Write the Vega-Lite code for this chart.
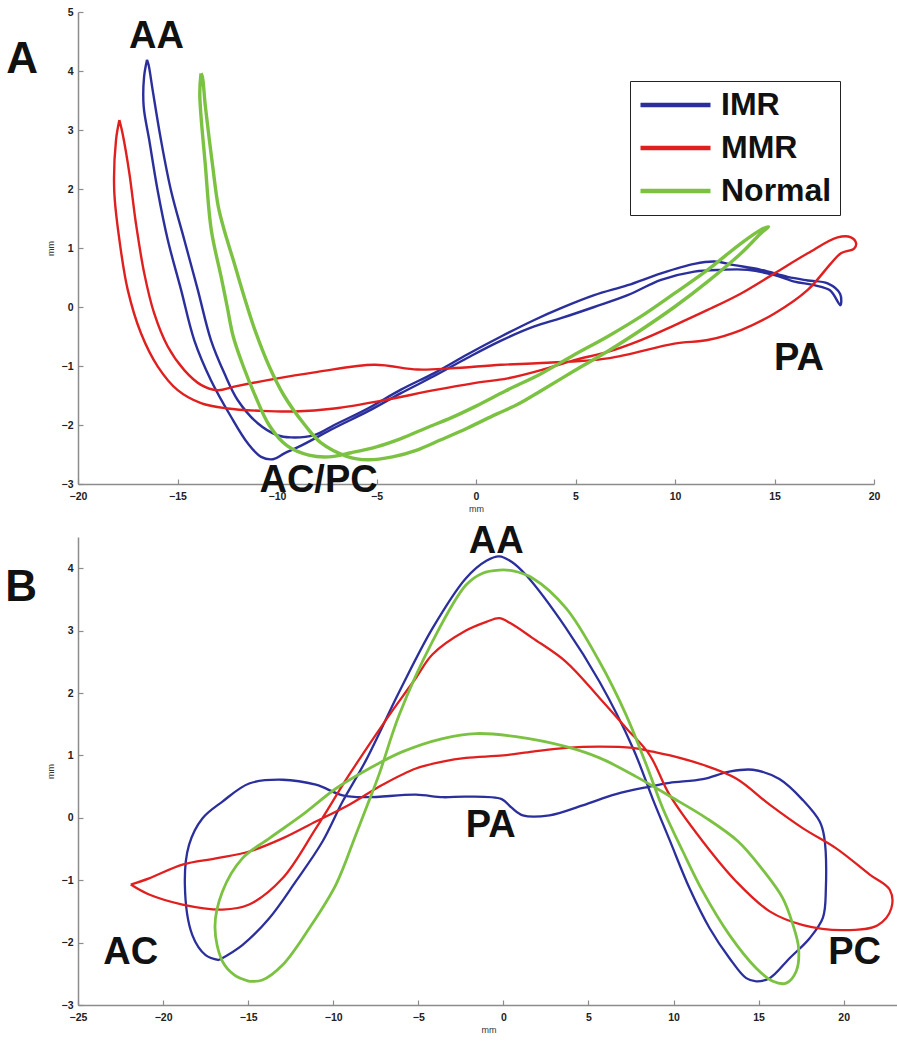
{
  "$schema": "https://vega.github.io/schema/vega-lite/v6.json",
  "background": "white",
  "padding": {"left": 5, "top": 7, "right": 0, "bottom": 5},
  "spacing": 9,
  "config": {
    "view": {"stroke": null},
    "axis": {"grid": false, "domainColor": "#8c8c8c", "domainWidth": 1.5, "tickColor": "#8c8c8c", "tickWidth": 1.2, "tickSize": -5, "labelFont": "Liberation Sans", "labelFontWeight": "bold", "labelFontSize": 10.5, "labelColor": "#222", "labelFlush": false, "format": "d", "titleFont": "Liberation Sans", "titleFontSize": 9, "titleFontWeight": "normal", "titleColor": "#333"},
    "axisX": {"labelPadding": 12, "titlePadding": 3},
    "axisY": {"labelPadding": 10, "titlePadding": 6}
  },
  "resolve": {"scale": {"color": "independent"}, "legend": {"color": "independent"}},
  "datasets": {
    "A_lines": [
      {"g":"IMR","i":0,"x":-16.53,"y":4.19},{"g":"IMR","i":1,"x":-16.68,"y":3.9},{"g":"IMR","i":2,"x":-16.7,"y":3.4},{"g":"IMR","i":3,"x":-16.42,"y":2.83},{"g":"IMR","i":4,"x":-16.0,"y":1.98},{"g":"IMR","i":5,"x":-15.49,"y":1.14},{"g":"IMR","i":6,"x":-14.82,"y":0.29},{"g":"IMR","i":7,"x":-14.16,"y":-0.56},{"g":"IMR","i":8,"x":-13.32,"y":-1.24},{"g":"IMR","i":9,"x":-12.31,"y":-1.86},{"g":"IMR","i":10,"x":-11.47,"y":-2.31},{"g":"IMR","i":11,"x":-10.8,"y":-2.54},{"g":"IMR","i":12,"x":-10.2,"y":-2.58},{"g":"IMR","i":13,"x":-9.63,"y":-2.48},{"g":"IMR","i":14,"x":-8.79,"y":-2.35},{"g":"IMR","i":15,"x":-7.12,"y":-2.05},{"g":"IMR","i":16,"x":-5.44,"y":-1.77},{"g":"IMR","i":17,"x":-3.77,"y":-1.46},{"g":"IMR","i":18,"x":-2.1,"y":-1.17},{"g":"IMR","i":19,"x":-0.42,"y":-0.86},{"g":"IMR","i":20,"x":1.26,"y":-0.57},{"g":"IMR","i":21,"x":2.93,"y":-0.33},{"g":"IMR","i":22,"x":4.27,"y":-0.19},{"g":"IMR","i":23,"x":5.94,"y":0.0},{"g":"IMR","i":24,"x":7.62,"y":0.2},{"g":"IMR","i":25,"x":9.3,"y":0.46},{"g":"IMR","i":26,"x":10.97,"y":0.6},{"g":"IMR","i":27,"x":12.31,"y":0.63},{"g":"IMR","i":28,"x":13.65,"y":0.63},{"g":"IMR","i":29,"x":15.0,"y":0.54},{"g":"IMR","i":30,"x":16.0,"y":0.43},{"g":"IMR","i":31,"x":17.0,"y":0.37},{"g":"IMR","i":32,"x":17.8,"y":0.28},{"g":"IMR","i":33,"x":18.31,"y":0.03},{"g":"IMR","i":34,"x":18.3,"y":0.22},{"g":"IMR","i":35,"x":17.67,"y":0.4},{"g":"IMR","i":36,"x":16.67,"y":0.45},{"g":"IMR","i":37,"x":15.66,"y":0.51},{"g":"IMR","i":38,"x":14.32,"y":0.63},{"g":"IMR","i":39,"x":12.98,"y":0.71},{"g":"IMR","i":40,"x":11.98,"y":0.77},{"g":"IMR","i":41,"x":10.97,"y":0.73},{"g":"IMR","i":42,"x":9.3,"y":0.57},{"g":"IMR","i":43,"x":7.62,"y":0.37},{"g":"IMR","i":44,"x":5.94,"y":0.2},{"g":"IMR","i":45,"x":4.27,"y":-0.02},{"g":"IMR","i":46,"x":2.93,"y":-0.22},{"g":"IMR","i":47,"x":1.26,"y":-0.5},{"g":"IMR","i":48,"x":-0.42,"y":-0.8},{"g":"IMR","i":49,"x":-2.1,"y":-1.12},{"g":"IMR","i":50,"x":-3.77,"y":-1.4},{"g":"IMR","i":51,"x":-5.44,"y":-1.72},{"g":"IMR","i":52,"x":-7.12,"y":-2.0},{"g":"IMR","i":53,"x":-8.12,"y":-2.17},{"g":"IMR","i":54,"x":-9.3,"y":-2.21},{"g":"IMR","i":55,"x":-10.0,"y":-2.17},{"g":"IMR","i":56,"x":-10.97,"y":-1.97},{"g":"IMR","i":57,"x":-11.97,"y":-1.58},{"g":"IMR","i":58,"x":-12.65,"y":-1.12},{"g":"IMR","i":59,"x":-13.32,"y":-0.56},{"g":"IMR","i":60,"x":-13.98,"y":0.29},{"g":"IMR","i":61,"x":-14.66,"y":1.14},{"g":"IMR","i":62,"x":-15.33,"y":1.98},{"g":"IMR","i":63,"x":-15.83,"y":2.83},{"g":"IMR","i":64,"x":-16.25,"y":3.68},{"g":"IMR","i":65,"x":-16.45,"y":4.1},{"g":"IMR","i":66,"x":-16.53,"y":4.19},
      {"g":"MMR","i":0,"x":-17.92,"y":3.17},{"g":"MMR","i":1,"x":-18.09,"y":2.83},{"g":"MMR","i":2,"x":-18.18,"y":1.98},{"g":"MMR","i":3,"x":-17.92,"y":1.14},{"g":"MMR","i":4,"x":-17.5,"y":0.29},{"g":"MMR","i":5,"x":-16.83,"y":-0.45},{"g":"MMR","i":6,"x":-15.99,"y":-1.01},{"g":"MMR","i":7,"x":-14.99,"y":-1.41},{"g":"MMR","i":8,"x":-13.82,"y":-1.63},{"g":"MMR","i":9,"x":-12.48,"y":-1.72},{"g":"MMR","i":10,"x":-10.8,"y":-1.76},{"g":"MMR","i":11,"x":-9.13,"y":-1.77},{"g":"MMR","i":12,"x":-7.12,"y":-1.72},{"g":"MMR","i":13,"x":-4.61,"y":-1.58},{"g":"MMR","i":14,"x":-2.1,"y":-1.41},{"g":"MMR","i":15,"x":-0.09,"y":-1.29},{"g":"MMR","i":16,"x":1.59,"y":-1.21},{"g":"MMR","i":17,"x":3.27,"y":-1.07},{"g":"MMR","i":18,"x":4.94,"y":-0.9},{"g":"MMR","i":19,"x":6.62,"y":-0.76},{"g":"MMR","i":20,"x":8.29,"y":-0.56},{"g":"MMR","i":21,"x":9.97,"y":-0.31},{"g":"MMR","i":22,"x":11.64,"y":-0.05},{"g":"MMR","i":23,"x":13.32,"y":0.23},{"g":"MMR","i":24,"x":15.0,"y":0.57},{"g":"MMR","i":25,"x":16.67,"y":0.91},{"g":"MMR","i":26,"x":18.17,"y":1.18},{"g":"MMR","i":27,"x":18.84,"y":1.18},{"g":"MMR","i":28,"x":19.1,"y":1.08},{"g":"MMR","i":29,"x":19.0,"y":0.99},{"g":"MMR","i":30,"x":18.34,"y":0.91},{"g":"MMR","i":31,"x":17.84,"y":0.74},{"g":"MMR","i":32,"x":16.67,"y":0.29},{"g":"MMR","i":33,"x":15.0,"y":-0.11},{"g":"MMR","i":34,"x":13.32,"y":-0.39},{"g":"MMR","i":35,"x":11.64,"y":-0.56},{"g":"MMR","i":36,"x":9.97,"y":-0.62},{"g":"MMR","i":37,"x":6.62,"y":-0.87},{"g":"MMR","i":38,"x":3.27,"y":-0.95},{"g":"MMR","i":39,"x":1.26,"y":-0.98},{"g":"MMR","i":40,"x":-1.26,"y":-1.04},{"g":"MMR","i":41,"x":-2.93,"y":-1.06},{"g":"MMR","i":42,"x":-5.11,"y":-0.98},{"g":"MMR","i":43,"x":-7.96,"y":-1.1},{"g":"MMR","i":44,"x":-10.47,"y":-1.24},{"g":"MMR","i":45,"x":-12.15,"y":-1.35},{"g":"MMR","i":46,"x":-12.98,"y":-1.41},{"g":"MMR","i":47,"x":-13.82,"y":-1.32},{"g":"MMR","i":48,"x":-14.66,"y":-1.07},{"g":"MMR","i":49,"x":-15.49,"y":-0.67},{"g":"MMR","i":50,"x":-16.17,"y":-0.11},{"g":"MMR","i":51,"x":-16.67,"y":0.57},{"g":"MMR","i":52,"x":-17.09,"y":1.42},{"g":"MMR","i":53,"x":-17.42,"y":2.27},{"g":"MMR","i":54,"x":-17.76,"y":2.94},{"g":"MMR","i":55,"x":-17.92,"y":3.17},
      {"g":"Normal","i":0,"x":-13.82,"y":3.96},{"g":"Normal","i":1,"x":-13.88,"y":3.6},{"g":"Normal","i":2,"x":-13.6,"y":2.4},{"g":"Normal","i":3,"x":-13.3,"y":1.3},{"g":"Normal","i":4,"x":-12.8,"y":0.5},{"g":"Normal","i":5,"x":-12.5,"y":0.0},{"g":"Normal","i":6,"x":-12.2,"y":-0.5},{"g":"Normal","i":7,"x":-11.7,"y":-1.0},{"g":"Normal","i":8,"x":-11.1,"y":-1.5},{"g":"Normal","i":9,"x":-10.4,"y":-2.0},{"g":"Normal","i":10,"x":-9.5,"y":-2.35},{"g":"Normal","i":11,"x":-8.4,"y":-2.51},{"g":"Normal","i":12,"x":-7.4,"y":-2.54},{"g":"Normal","i":13,"x":-6.28,"y":-2.47},{"g":"Normal","i":14,"x":-5.0,"y":-2.37},{"g":"Normal","i":15,"x":-3.77,"y":-2.23},{"g":"Normal","i":16,"x":-2.5,"y":-2.05},{"g":"Normal","i":17,"x":-1.26,"y":-1.88},{"g":"Normal","i":18,"x":0.0,"y":-1.68},{"g":"Normal","i":19,"x":1.5,"y":-1.42},{"g":"Normal","i":20,"x":3.27,"y":-1.13},{"g":"Normal","i":21,"x":4.94,"y":-0.81},{"g":"Normal","i":22,"x":6.62,"y":-0.5},{"g":"Normal","i":23,"x":8.29,"y":-0.16},{"g":"Normal","i":24,"x":9.97,"y":0.23},{"g":"Normal","i":25,"x":11.64,"y":0.63},{"g":"Normal","i":26,"x":13.32,"y":1.08},{"g":"Normal","i":27,"x":14.32,"y":1.31},{"g":"Normal","i":28,"x":14.7,"y":1.36},{"g":"Normal","i":29,"x":14.32,"y":1.25},{"g":"Normal","i":30,"x":13.32,"y":0.91},{"g":"Normal","i":31,"x":11.64,"y":0.43},{"g":"Normal","i":32,"x":9.97,"y":0.0},{"g":"Normal","i":33,"x":8.29,"y":-0.39},{"g":"Normal","i":34,"x":6.62,"y":-0.75},{"g":"Normal","i":35,"x":4.94,"y":-1.08},{"g":"Normal","i":36,"x":3.27,"y":-1.42},{"g":"Normal","i":37,"x":2.1,"y":-1.65},{"g":"Normal","i":38,"x":1.0,"y":-1.82},{"g":"Normal","i":39,"x":-0.42,"y":-2.05},{"g":"Normal","i":40,"x":-1.76,"y":-2.25},{"g":"Normal","i":41,"x":-2.93,"y":-2.42},{"g":"Normal","i":42,"x":-4.2,"y":-2.54},{"g":"Normal","i":43,"x":-5.44,"y":-2.59},{"g":"Normal","i":44,"x":-6.5,"y":-2.53},{"g":"Normal","i":45,"x":-7.8,"y":-2.3},{"g":"Normal","i":46,"x":-8.6,"y":-2.0},{"g":"Normal","i":47,"x":-9.65,"y":-1.5},{"g":"Normal","i":48,"x":-10.4,"y":-1.0},{"g":"Normal","i":49,"x":-11.1,"y":-0.4},{"g":"Normal","i":50,"x":-11.6,"y":0.12},{"g":"Normal","i":51,"x":-12.2,"y":0.8},{"g":"Normal","i":52,"x":-12.65,"y":1.3},{"g":"Normal","i":53,"x":-12.95,"y":1.7},{"g":"Normal","i":54,"x":-13.23,"y":2.38},{"g":"Normal","i":55,"x":-13.6,"y":3.4},{"g":"Normal","i":56,"x":-13.75,"y":3.9},{"g":"Normal","i":57,"x":-13.82,"y":3.96}
    ],
    "B_lines": [
      {"g":"IMR","i":0,"x":-16.71,"y":-2.28},{"g":"IMR","i":1,"x":-15.34,"y":-2.04},{"g":"IMR","i":2,"x":-13.76,"y":-1.61},{"g":"IMR","i":3,"x":-12.2,"y":-1.02},{"g":"IMR","i":4,"x":-10.63,"y":-0.38},{"g":"IMR","i":5,"x":-9.45,"y":0.26},{"g":"IMR","i":6,"x":-8.08,"y":0.92},{"g":"IMR","i":7,"x":-6.12,"y":2.02},{"g":"IMR","i":8,"x":-4.16,"y":3.04},{"g":"IMR","i":9,"x":-2.2,"y":3.84},{"g":"IMR","i":10,"x":-1.0,"y":4.12},{"g":"IMR","i":11,"x":-0.24,"y":4.19},{"g":"IMR","i":12,"x":0.5,"y":4.1},{"g":"IMR","i":13,"x":1.33,"y":3.89},{"g":"IMR","i":14,"x":3.68,"y":3.04},{"g":"IMR","i":15,"x":5.65,"y":2.18},{"g":"IMR","i":16,"x":7.61,"y":1.12},{"g":"IMR","i":17,"x":8.78,"y":0.3},{"g":"IMR","i":18,"x":9.76,"y":-0.35},{"g":"IMR","i":19,"x":10.94,"y":-1.13},{"g":"IMR","i":20,"x":12.12,"y":-1.77},{"g":"IMR","i":21,"x":13.29,"y":-2.25},{"g":"IMR","i":22,"x":14.27,"y":-2.57},{"g":"IMR","i":23,"x":14.86,"y":-2.62},{"g":"IMR","i":24,"x":15.65,"y":-2.57},{"g":"IMR","i":25,"x":16.82,"y":-2.25},{"g":"IMR","i":26,"x":18.0,"y":-1.93},{"g":"IMR","i":27,"x":18.78,"y":-1.6},{"g":"IMR","i":28,"x":18.95,"y":-1.15},{"g":"IMR","i":29,"x":18.85,"y":-0.3},{"g":"IMR","i":30,"x":18.59,"y":-0.06},{"g":"IMR","i":31,"x":17.61,"y":0.28},{"g":"IMR","i":32,"x":16.22,"y":0.62},{"g":"IMR","i":33,"x":14.66,"y":0.77},{"g":"IMR","i":34,"x":13.28,"y":0.74},{"g":"IMR","i":35,"x":11.72,"y":0.62},{"g":"IMR","i":36,"x":9.76,"y":0.56},{"g":"IMR","i":37,"x":8.59,"y":0.5},{"g":"IMR","i":38,"x":6.62,"y":0.38},{"g":"IMR","i":39,"x":4.66,"y":0.2},{"g":"IMR","i":40,"x":2.71,"y":0.04},{"g":"IMR","i":41,"x":1.14,"y":0.04},{"g":"IMR","i":42,"x":0.45,"y":0.17},{"g":"IMR","i":43,"x":-0.1,"y":0.3},{"g":"IMR","i":44,"x":-2.2,"y":0.34},{"g":"IMR","i":45,"x":-3.57,"y":0.33},{"g":"IMR","i":46,"x":-5.14,"y":0.37},{"g":"IMR","i":47,"x":-8.08,"y":0.33},{"g":"IMR","i":48,"x":-9.45,"y":0.36},{"g":"IMR","i":49,"x":-11.02,"y":0.53},{"g":"IMR","i":50,"x":-12.98,"y":0.61},{"g":"IMR","i":51,"x":-14.94,"y":0.55},{"g":"IMR","i":52,"x":-16.51,"y":0.26},{"g":"IMR","i":53,"x":-17.69,"y":-0.01},{"g":"IMR","i":54,"x":-18.47,"y":-0.43},{"g":"IMR","i":55,"x":-18.72,"y":-1.07},{"g":"IMR","i":56,"x":-18.28,"y":-1.88},{"g":"IMR","i":57,"x":-17.5,"y":-2.2},{"g":"IMR","i":58,"x":-16.71,"y":-2.28},
      {"g":"MMR","i":0,"x":-21.9,"y":-1.07},{"g":"MMR","i":1,"x":-20.82,"y":-0.97},{"g":"MMR","i":2,"x":-18.86,"y":-0.75},{"g":"MMR","i":3,"x":-16.9,"y":-0.65},{"g":"MMR","i":4,"x":-14.94,"y":-0.54},{"g":"MMR","i":5,"x":-12.98,"y":-0.33},{"g":"MMR","i":6,"x":-11.02,"y":-0.06},{"g":"MMR","i":7,"x":-9.06,"y":0.21},{"g":"MMR","i":8,"x":-7.1,"y":0.53},{"g":"MMR","i":9,"x":-5.14,"y":0.79},{"g":"MMR","i":10,"x":-3.57,"y":0.9},{"g":"MMR","i":11,"x":-2.2,"y":0.96},{"g":"MMR","i":12,"x":0.0,"y":1.0},{"g":"MMR","i":13,"x":1.72,"y":1.06},{"g":"MMR","i":14,"x":3.68,"y":1.12},{"g":"MMR","i":15,"x":5.65,"y":1.14},{"g":"MMR","i":16,"x":7.61,"y":1.12},{"g":"MMR","i":17,"x":8.78,"y":1.06},{"g":"MMR","i":18,"x":9.8,"y":1.0},{"g":"MMR","i":19,"x":11.72,"y":0.85},{"g":"MMR","i":20,"x":13.68,"y":0.63},{"g":"MMR","i":21,"x":15.65,"y":0.21},{"g":"MMR","i":22,"x":17.61,"y":-0.17},{"g":"MMR","i":23,"x":19.56,"y":-0.49},{"g":"MMR","i":24,"x":21.53,"y":-0.91},{"g":"MMR","i":25,"x":22.7,"y":-1.15},{"g":"MMR","i":26,"x":22.8,"y":-1.45},{"g":"MMR","i":27,"x":22.0,"y":-1.72},{"g":"MMR","i":28,"x":20.0,"y":-1.8},{"g":"MMR","i":29,"x":17.61,"y":-1.72},{"g":"MMR","i":30,"x":15.65,"y":-1.5},{"g":"MMR","i":31,"x":13.68,"y":-1.02},{"g":"MMR","i":32,"x":11.72,"y":-0.38},{"g":"MMR","i":33,"x":9.76,"y":0.37},{"g":"MMR","i":34,"x":8.59,"y":1.01},{"g":"MMR","i":35,"x":7.21,"y":1.44},{"g":"MMR","i":36,"x":5.65,"y":1.92},{"g":"MMR","i":37,"x":3.68,"y":2.5},{"g":"MMR","i":38,"x":1.72,"y":2.88},{"g":"MMR","i":39,"x":0.4,"y":3.12},{"g":"MMR","i":40,"x":-0.24,"y":3.2},{"g":"MMR","i":41,"x":-1.0,"y":3.14},{"g":"MMR","i":42,"x":-2.2,"y":3.0},{"g":"MMR","i":43,"x":-4.16,"y":2.62},{"g":"MMR","i":44,"x":-5.14,"y":2.24},{"g":"MMR","i":45,"x":-6.12,"y":1.87},{"g":"MMR","i":46,"x":-7.1,"y":1.49},{"g":"MMR","i":47,"x":-9.06,"y":0.69},{"g":"MMR","i":48,"x":-11.02,"y":-0.17},{"g":"MMR","i":49,"x":-12.98,"y":-0.97},{"g":"MMR","i":50,"x":-14.94,"y":-1.39},{"g":"MMR","i":51,"x":-16.51,"y":-1.47},{"g":"MMR","i":52,"x":-18.86,"y":-1.39},{"g":"MMR","i":53,"x":-20.82,"y":-1.23},{"g":"MMR","i":54,"x":-21.9,"y":-1.07},
      {"g":"Normal","i":0,"x":-14.94,"y":-2.62},{"g":"Normal","i":1,"x":-15.8,"y":-2.52},{"g":"Normal","i":2,"x":-16.51,"y":-2.3},{"g":"Normal","i":3,"x":-16.95,"y":-1.75},{"g":"Normal","i":4,"x":-16.51,"y":-1.18},{"g":"Normal","i":5,"x":-15.34,"y":-0.65},{"g":"Normal","i":6,"x":-13.76,"y":-0.33},{"g":"Normal","i":7,"x":-11.8,"y":0.05},{"g":"Normal","i":8,"x":-9.84,"y":0.47},{"g":"Normal","i":9,"x":-7.88,"y":0.79},{"g":"Normal","i":10,"x":-5.92,"y":1.06},{"g":"Normal","i":11,"x":-3.57,"y":1.27},{"g":"Normal","i":12,"x":-1.61,"y":1.35},{"g":"Normal","i":13,"x":0.74,"y":1.3},{"g":"Normal","i":14,"x":3.68,"y":1.14},{"g":"Normal","i":15,"x":5.65,"y":0.96},{"g":"Normal","i":16,"x":7.8,"y":0.66},{"g":"Normal","i":17,"x":9.76,"y":0.35},{"g":"Normal","i":18,"x":11.9,"y":0.0},{"g":"Normal","i":19,"x":13.8,"y":-0.38},{"g":"Normal","i":20,"x":15.2,"y":-0.82},{"g":"Normal","i":21,"x":16.4,"y":-1.28},{"g":"Normal","i":22,"x":17.0,"y":-1.7},{"g":"Normal","i":23,"x":17.35,"y":-2.09},{"g":"Normal","i":24,"x":17.21,"y":-2.46},{"g":"Normal","i":25,"x":16.62,"y":-2.65},{"g":"Normal","i":26,"x":15.84,"y":-2.62},{"g":"Normal","i":27,"x":14.86,"y":-2.41},{"g":"Normal","i":28,"x":13.29,"y":-1.88},{"g":"Normal","i":29,"x":11.72,"y":-1.18},{"g":"Normal","i":30,"x":10.55,"y":-0.54},{"g":"Normal","i":31,"x":9.37,"y":0.15},{"g":"Normal","i":32,"x":8.4,"y":0.85},{"g":"Normal","i":33,"x":7.21,"y":1.65},{"g":"Normal","i":34,"x":5.65,"y":2.5},{"g":"Normal","i":35,"x":3.68,"y":3.36},{"g":"Normal","i":36,"x":1.72,"y":3.84},{"g":"Normal","i":37,"x":0.5,"y":3.96},{"g":"Normal","i":38,"x":-0.24,"y":3.97},{"g":"Normal","i":39,"x":-1.22,"y":3.92},{"g":"Normal","i":40,"x":-2.2,"y":3.73},{"g":"Normal","i":41,"x":-4.16,"y":2.83},{"g":"Normal","i":42,"x":-6.12,"y":1.65},{"g":"Normal","i":43,"x":-7.3,"y":0.7},{"g":"Normal","i":44,"x":-8.0,"y":0.2},{"g":"Normal","i":45,"x":-8.67,"y":-0.27},{"g":"Normal","i":46,"x":-9.84,"y":-1.07},{"g":"Normal","i":47,"x":-11.41,"y":-1.77},{"g":"Normal","i":48,"x":-12.98,"y":-2.36},{"g":"Normal","i":49,"x":-14.16,"y":-2.6},{"g":"Normal","i":50,"x":-14.94,"y":-2.62}
    ],
    "A_text": [
      {"kind":"panel","label":"A","x":-22.81,"y":3.97},
      {"kind":"note","label":"AA","x":-16.06,"y":4.39},
      {"kind":"note","label":"AC/PC","x":-7.91,"y":-3.14},
      {"kind":"note","label":"PA","x":16.23,"y":-1.07}
    ],
    "B_text": [
      {"kind":"panel","label":"B","x":-28.34,"y":3.47},
      {"kind":"note","label":"AA","x":-0.42,"y":4.24},
      {"kind":"note","label":"PA","x":-0.75,"y":-0.3},
      {"kind":"note","label":"AC","x":-21.9,"y":-2.34},
      {"kind":"note","label":"PC","x":20.64,"y":-2.34}
    ]
  },
  "vconcat": [
    {
      "width": 796,
      "height": 472,
      "layer": [
        {
          "data": {"name": "A_lines"},
          "transform": [{"filter": "datum.g != 'Normal'"}],
          "mark": {"type": "line", "strokeWidth": 2.4, "interpolate": "catmull-rom"},
          "encoding": {
            "x": {"field": "x", "type": "quantitative", "scale": {"domain": [-20, 20], "nice": false, "zero": false}, "axis": {"values": [-20, -15, -10, -5, 0, 5, 10, 15, 20], "title": "mm"}},
            "y": {"field": "y", "type": "quantitative", "scale": {"domain": [-3, 5], "nice": false, "zero": false}, "axis": {"values": [-3, -2, -1, 0, 1, 2, 3, 4, 5], "title": "mm"}},
            "order": {"field": "i", "type": "quantitative"},
            "detail": {"field": "g", "type": "nominal"},
            "color": {"field": "g", "type": "nominal", "scale": {"domain": ["IMR", "MMR", "Normal"], "range": ["#2b2f9b", "#e01f1f", "#7cc242"]},
              "legend": {"orient": "none", "legendX": 552, "legendY": 69, "title": null, "symbolType": "stroke", "symbolSize": 4900, "symbolStrokeWidth": 4.5, "labelFont": "Liberation Sans", "labelFontSize": 32, "labelFontWeight": "bold", "labelColor": "#111", "labelOffset": 8, "strokeColor": "#222", "padding": 8, "rowPadding": 11, "clipHeight": 32, "fillColor": "white"}}
          }
        },
        {
          "data": {"name": "A_lines"},
          "transform": [{"filter": "datum.g == 'Normal'"}],
          "mark": {"type": "line", "strokeWidth": 3.4, "interpolate": "catmull-rom"},
          "encoding": {
            "x": {"field": "x", "type": "quantitative"},
            "y": {"field": "y", "type": "quantitative"},
            "order": {"field": "i", "type": "quantitative"},
            "color": {"field": "g", "type": "nominal"}
          }
        },
        {
          "data": {"name": "A_text"},
          "transform": [{"filter": "datum.kind == 'note'"}],
          "mark": {"type": "text", "font": "Liberation Sans", "fontWeight": "bold", "fontSize": 38, "align": "center", "baseline": "alphabetic", "color": "#111"},
          "encoding": {
            "x": {"field": "x", "type": "quantitative"},
            "y": {"field": "y", "type": "quantitative"},
            "text": {"field": "label", "type": "nominal"}
          }
        },
        {
          "data": {"name": "A_text"},
          "transform": [{"filter": "datum.kind == 'panel'"}],
          "mark": {"type": "text", "font": "Liberation Sans", "fontWeight": "bold", "fontSize": 44, "align": "center", "baseline": "alphabetic", "color": "#111"},
          "encoding": {
            "x": {"field": "x", "type": "quantitative"},
            "y": {"field": "y", "type": "quantitative"},
            "text": {"field": "label", "type": "nominal"}
          }
        }
      ]
    },
    {
      "width": 821,
      "height": 468,
      "layer": [
        {
          "data": {"name": "B_lines"},
          "transform": [{"filter": "datum.g != 'Normal'"}],
          "mark": {"type": "line", "strokeWidth": 2.3, "interpolate": "catmull-rom"},
          "encoding": {
            "x": {"field": "x", "type": "quantitative", "scale": {"domain": [-25, 23.25], "nice": false, "zero": false}, "axis": {"values": [-25, -20, -15, -10, -5, 0, 5, 10, 15, 20], "title": "mm"}},
            "y": {"field": "y", "type": "quantitative", "scale": {"domain": [-3, 4.5], "nice": false, "zero": false}, "axis": {"values": [-3, -2, -1, 0, 1, 2, 3, 4], "title": "mm"}},
            "order": {"field": "i", "type": "quantitative"},
            "detail": {"field": "g", "type": "nominal"},
            "color": {"field": "g", "type": "nominal", "scale": {"domain": ["IMR", "MMR", "Normal"], "range": ["#2b2f9b", "#e01f1f", "#7cc242"]}, "legend": null}
          }
        },
        {
          "data": {"name": "B_lines"},
          "transform": [{"filter": "datum.g == 'Normal'"}],
          "mark": {"type": "line", "strokeWidth": 2.8, "interpolate": "catmull-rom"},
          "encoding": {
            "x": {"field": "x", "type": "quantitative"},
            "y": {"field": "y", "type": "quantitative"},
            "order": {"field": "i", "type": "quantitative"},
            "color": {"field": "g", "type": "nominal", "legend": null}
          }
        },
        {
          "data": {"name": "B_text"},
          "transform": [{"filter": "datum.kind == 'note'"}],
          "mark": {"type": "text", "font": "Liberation Sans", "fontWeight": "bold", "fontSize": 38, "align": "center", "baseline": "alphabetic", "color": "#111"},
          "encoding": {
            "x": {"field": "x", "type": "quantitative"},
            "y": {"field": "y", "type": "quantitative"},
            "text": {"field": "label", "type": "nominal"}
          }
        },
        {
          "data": {"name": "B_text"},
          "transform": [{"filter": "datum.kind == 'panel'"}],
          "mark": {"type": "text", "font": "Liberation Sans", "fontWeight": "bold", "fontSize": 44, "align": "center", "baseline": "alphabetic", "color": "#111"},
          "encoding": {
            "x": {"field": "x", "type": "quantitative"},
            "y": {"field": "y", "type": "quantitative"},
            "text": {"field": "label", "type": "nominal"}
          }
        }
      ]
    }
  ]
}
